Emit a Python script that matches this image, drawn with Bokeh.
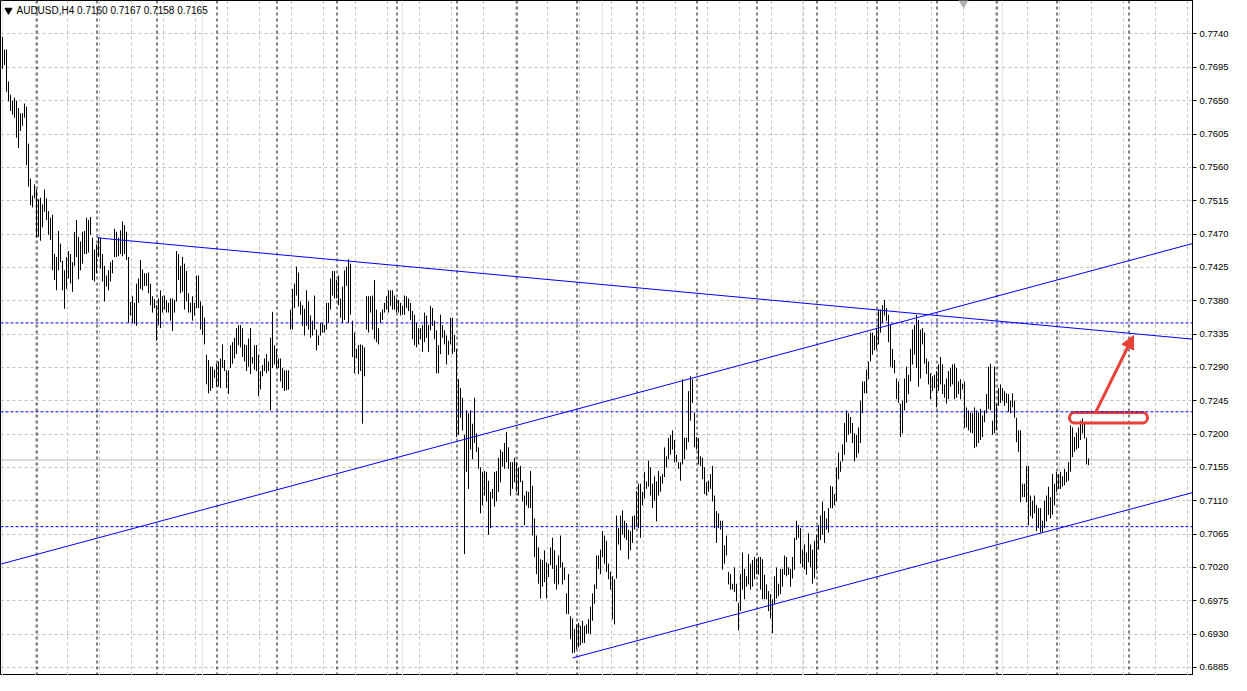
from bokeh.plotting import figure
from bokeh.models import (Range1d, FixedTicker, Grid, Span, Label, Arrow, NormalHead,
                          PrintfTickFormatter, ColumnDataSource)
from bokeh.embed import file_html
from bokeh.resources import INLINE

# ---------------- data (AUDUSD H4, prices in pips: 7736 = 0.7736) ----------------
high_pips = [
    7736, 7719, 7719, 7676, 7658, 7650, 7654, 7650, 7640, 7633,
    7633, 7646, 7642, 7592, 7545, 7522, 7537, 7530, 7517, 7519,
    7510, 7530, 7518, 7501, 7492, 7496, 7443, 7439, 7474, 7457,
    7434, 7421, 7439, 7447, 7443, 7432, 7473, 7489, 7466, 7460,
    7473, 7474, 7492, 7489, 7493, 7465, 7449, 7456, 7466, 7465,
    7443, 7427, 7414, 7421, 7432, 7435, 7477, 7473, 7465, 7475,
    7487, 7482, 7473, 7439, 7378, 7386, 7377, 7403, 7410, 7435,
    7422, 7417, 7417, 7418, 7403, 7386, 7382, 7374, 7383, 7394,
    7386, 7387, 7381, 7377, 7383, 7383, 7381, 7447, 7443, 7427,
    7439, 7430, 7420, 7390, 7377, 7386, 7377, 7414, 7414, 7379,
    7373, 7357, 7307, 7300, 7291, 7291, 7287, 7295, 7298, 7302,
    7321, 7300, 7286, 7286, 7320, 7324, 7330, 7343, 7347, 7347,
    7343, 7321, 7320, 7329, 7343, 7304, 7320, 7320, 7307, 7285,
    7293, 7302, 7308, 7298, 7330, 7365, 7320, 7315, 7302, 7302,
    7289, 7286, 7286, 7286, 7368, 7396, 7403, 7426, 7418, 7379,
    7374, 7369, 7394, 7379, 7360, 7353, 7387, 7341, 7333, 7350,
    7350, 7347, 7377, 7377, 7410, 7420, 7420, 7408, 7414, 7383,
    7399, 7421, 7426, 7436, 7430, 7353, 7337, 7315, 7320, 7321,
    7320, 7317, 7386, 7386, 7386, 7387, 7408, 7368, 7343, 7364,
    7368, 7377, 7386, 7394, 7394, 7394, 7387, 7383, 7381, 7377,
    7373, 7387, 7386, 7383, 7377, 7366, 7361, 7350, 7343, 7343,
    7347, 7364, 7360, 7347, 7373, 7370, 7353, 7340, 7320, 7361,
    7347, 7340, 7333, 7326, 7357, 7357, 7334, 7315, 7274, 7262,
    7249, 7199, 7232, 7228, 7232, 7214, 7249, 7201, 7182, 7155,
    7149, 7150, 7149, 7137, 7122, 7126, 7149, 7150, 7168, 7179,
    7176, 7188, 7203, 7182, 7162, 7162, 7168, 7162, 7155, 7157,
    7137, 7117, 7123, 7122, 7150, 7130, 7086, 7063, 7047, 7031,
    7030, 7043, 7027, 7025, 7047, 7060, 7043, 7023, 7036, 7063,
    7027, 7020, 6985, 7011, 6954, 6951, 6937, 6943, 6945, 6941,
    6948, 6941, 6943, 6950, 6967, 6985, 6997, 7036, 7036, 7044,
    7069, 7063, 7056, 7025, 7014, 7008, 7004, 7090, 7073, 7090,
    7097, 7083, 7080, 7071, 7069, 7089, 7090, 7123, 7133, 7133,
    7122, 7149, 7136, 7164, 7155, 7133, 7143, 7136, 7150, 7143,
    7146, 7182, 7170, 7195, 7199, 7205, 7192, 7172, 7162, 7162,
    7274, 7195, 7195, 7258, 7278, 7274, 7229, 7196, 7195, 7170,
    7168, 7155, 7135, 7137, 7146, 7157, 7117, 7096, 7093, 7083,
    7083, 7050, 7063, 7014, 7011, 6998, 7020, 6998, 6972, 7011,
    7040, 7018, 7008, 7038, 7025, 7030, 7034, 7031, 7034, 7034,
    7031, 7010, 6997, 6988, 6984, 6977, 7008, 7020, 6998, 7018,
    7018, 7036, 7034, 7020, 7018, 7034, 7060, 7083, 7077, 7073,
    7044, 7051, 7040, 7066, 7051, 7044, 7056, 7064, 7077, 7090,
    7109, 7096, 7086, 7100, 7130, 7129, 7119, 7155, 7175, 7163,
    7186, 7215, 7232, 7228, 7223, 7215, 7201, 7199, 7209, 7245,
    7271, 7271, 7287, 7298, 7337, 7337, 7333, 7343, 7368, 7368,
    7374, 7381, 7370, 7361, 7347, 7315, 7300, 7275, 7271, 7241,
    7245, 7275, 7291, 7280, 7315, 7341, 7347, 7361, 7354, 7341,
    7343, 7337, 7302, 7298, 7282, 7278, 7280, 7285, 7294, 7304,
    7294, 7267, 7275, 7285, 7289, 7294, 7295, 7289, 7271, 7274,
    7268, 7271, 7236, 7232, 7229, 7228, 7236, 7232, 7229, 7234,
    7225, 7232, 7254, 7291, 7295, 7218, 7291, 7241, 7262, 7267,
    7262, 7258, 7255, 7254, 7245, 7255, 7245, 7222, 7205, 7205,
    7133, 7133, 7157, 7157, 7117, 7110, 7117, 7104, 7100, 7100,
    7083, 7110, 7117, 7129, 7115, 7146, 7133, 7149, 7146, 7149,
    7143, 7153, 7149, 7162, 7212, 7209, 7196, 7202, 7209, 7218,
    7221, 7216, 7195, 7167,
]
low_pips = [
    7693, 7698, 7662, 7649, 7636, 7631, 7627, 7600, 7586, 7609,
    7616, 7627, 7563, 7534, 7509, 7506, 7518, 7465, 7466, 7461,
    7479, 7500, 7489, 7469, 7462, 7421, 7408, 7394, 7421, 7432,
    7394, 7369, 7396, 7410, 7403, 7392, 7427, 7439, 7409, 7421,
    7430, 7443, 7443, 7445, 7469, 7408, 7406, 7417, 7439, 7423,
    7406, 7379, 7399, 7394, 7406, 7417, 7439, 7439, 7440, 7443,
    7440, 7443, 7435, 7350, 7360, 7350, 7349, 7346, 7377, 7396,
    7394, 7400, 7400, 7390, 7374, 7364, 7370, 7326, 7347, 7343,
    7364, 7368, 7364, 7364, 7353, 7339, 7364, 7379, 7408, 7390,
    7392, 7368, 7379, 7364, 7364, 7353, 7360, 7370, 7370, 7341,
    7334, 7321, 7267, 7255, 7258, 7262, 7276, 7264, 7264, 7262,
    7289, 7285, 7262, 7254, 7289, 7295, 7302, 7308, 7320, 7317,
    7304, 7298, 7285, 7291, 7281, 7295, 7287, 7285, 7251, 7260,
    7278, 7285, 7282, 7285, 7232, 7289, 7294, 7289, 7289, 7271,
    7262, 7258, 7259, 7260, 7341, 7341, 7370, 7387, 7372, 7361,
    7346, 7333, 7346, 7341, 7330, 7333, 7341, 7313, 7320, 7333,
    7337, 7337, 7341, 7350, 7368, 7387, 7383, 7383, 7374, 7357,
    7350, 7354, 7400, 7350, 7361, 7304, 7282, 7302, 7281, 7285,
    7214, 7278, 7341, 7337, 7364, 7341, 7328, 7324, 7321, 7350,
    7354, 7364, 7368, 7364, 7373, 7368, 7368, 7364, 7364, 7360,
    7361, 7361, 7370, 7366, 7354, 7328, 7320, 7317, 7321, 7328,
    7311, 7324, 7330, 7311, 7340, 7346, 7328, 7282, 7282, 7308,
    7330, 7321, 7294, 7307, 7321, 7308, 7311, 7196, 7199, 7222,
    7205, 7038, 7149, 7126, 7179, 7166, 7188, 7176, 7153, 7093,
    7104, 7117, 7109, 7064, 7073, 7113, 7102, 7109, 7122, 7135,
    7156, 7153, 7162, 7153, 7117, 7126, 7135, 7122, 7117, 7135,
    7109, 7077, 7104, 7100, 7100, 7063, 7034, 7011, 6998, 6978,
    6994, 7000, 6978, 7007, 7023, 7018, 6998, 6990, 6997, 7020,
    6997, 7003, 6957, 6957, 6923, 6904, 6905, 6910, 6912, 6915,
    6918, 6918, 6930, 6931, 6930, 6948, 6971, 6991, 7018, 7011,
    7034, 7025, 7014, 7004, 6990, 6950, 6943, 7005, 7051, 7043,
    7064, 7060, 7057, 7031, 7043, 7053, 7071, 7076, 7073, 7060,
    7104, 7113, 7126, 7129, 7117, 7100, 7110, 7082, 7117, 7122,
    7133, 7142, 7155, 7166, 7172, 7179, 7162, 7162, 7153, 7137,
    7159, 7166, 7179, 7189, 7218, 7242, 7182, 7179, 7159, 7157,
    7139, 7119, 7117, 7122, 7126, 7109, 7073, 7053, 7073, 7071,
    7017, 7025, 7036, 6997, 6990, 6990, 6987, 6974, 6935, 6961,
    6990, 6977, 6994, 6997, 6990, 6994, 7004, 7011, 7010, 6990,
    6977, 6977, 6977, 6961, 6951, 6931, 6971, 6978, 6981, 6984,
    6994, 7010, 7008, 7010, 6994, 7005, 7017, 7057, 7060, 7025,
    7020, 7017, 7010, 7027, 7020, 6998, 7005, 7017, 7044, 7057,
    7064, 7053, 7071, 7067, 7100, 7100, 7104, 7109, 7139, 7149,
    7163, 7172, 7189, 7199, 7201, 7188, 7163, 7168, 7174, 7188,
    7228, 7255, 7255, 7274, 7298, 7307, 7313, 7315, 7321, 7337,
    7350, 7360, 7353, 7324, 7291, 7289, 7282, 7247, 7242, 7196,
    7201, 7232, 7242, 7254, 7271, 7294, 7307, 7289, 7264, 7275,
    7321, 7295, 7281, 7267, 7247, 7258, 7262, 7236, 7258, 7267,
    7254, 7249, 7241, 7247, 7264, 7267, 7247, 7249, 7254, 7247,
    7260, 7208, 7209, 7205, 7202, 7201, 7181, 7183, 7188, 7192,
    7196, 7216, 7228, 7234, 7232, 7199, 7201, 7205, 7238, 7242,
    7245, 7238, 7242, 7230, 7228, 7236, 7222, 7189, 7176, 7108,
    7115, 7115, 7108, 7077, 7089, 7086, 7093, 7069, 7073, 7067,
    7067, 7073, 7082, 7091, 7086, 7091, 7104, 7122, 7126, 7126,
    7129, 7131, 7135, 7137, 7149, 7169, 7176, 7179, 7181, 7192,
    7201, 7194, 7159, 7158,
]
last_ohlc = [0.7160, 0.7167, 0.7158, 0.7165]
symbol = "AUDUSD,H4"

price_ticks = [0.7740, 0.7695, 0.7650, 0.7605, 0.7560, 0.7515, 0.7470, 0.7425,
               0.7380, 0.7335, 0.7290, 0.7245, 0.7200, 0.7155, 0.7110, 0.7065,
               0.7020, 0.6975, 0.6930, 0.6885]
levels = [0.7350, 0.7230, 0.7075]          # horizontal dashed levels
current_price = 0.7165
week_start_bars = [17, 47, 77, 107, 137, 167, 197, 227, 257, 287, 317, 347,
                   377, 407, 437, 467, 497, 527, 563]
shift_marker_bar = 480.5

# trend lines: (bar, price) anchors
trend_lines = [
    ((47.5, 0.74648), (602.0, 0.73264)),
    ((-1.0, 0.70244), (602.0, 0.74622)),
    ((285.0, 0.68978), (602.0, 0.71260)),
]
zone = dict(left=533.5, right=572.5, top=0.72290, bottom=0.72150)
arrow_pts = ((546.5, 0.72290), (565.5, 0.73330))

# ---------------- figure ----------------
FW, FH = 1192, 675                 # plot frame: 2 px per bar
X0 = -1.0
X1 = X0 + FW / 2.0
Y0, Y1 = 0.68741, 0.77852
p = figure(frame_width=FW, frame_height=FH, output_backend="svg", toolbar_location=None,
           x_range=Range1d(X0, X1), y_range=Range1d(Y0, Y1),
           x_axis_location=None, y_axis_location="right",
           min_border_left=0, min_border_top=0, min_border_bottom=0, min_border_right=0)
p.background_fill_color = "white"
p.border_fill_color = "white"
p.outline_line_color = "black"

ax = p.yaxis[0]
ax.ticker = FixedTicker(ticks=price_ticks)
ax.formatter = PrintfTickFormatter(format="%.4f")
ax.major_label_text_font = "Liberation Sans"
ax.major_label_text_font_size = "9.5px"
ax.major_label_text_color = "black"
ax.axis_line_color = "black"
ax.major_tick_line_color = "black"
ax.major_tick_out = 4
ax.major_tick_in = 0
ax.minor_tick_line_color = None
ax.major_label_standoff = 3

p.ygrid.grid_line_color = "#c0c0c0"
p.ygrid.grid_line_dash = "3 3"
p.ygrid.grid_line_width = 1

xgrid = Grid(dimension=0, ticker=FixedTicker(ticks=[16.25 + 16 * k for k in range(38)]),
             grid_line_color="#c0c0c0", grid_line_dash="3 3", grid_line_width=1)
p.add_layout(xgrid)

for b in week_start_bars:
    p.add_layout(Span(location=b + 0.25, dimension="height", line_color="black",
                      line_dash="3 3", line_width=1, level="underlay"))

p.add_layout(Span(location=current_price, dimension="width", line_color="#b8b8b8",
                  line_width=1, level="underlay"))
for lv in levels:
    p.add_layout(Span(location=lv, dimension="width", line_color="#0000ff",
                      line_dash="3 2", line_width=1))

# bars (high-low lines)
n = len(high_pips)
src = ColumnDataSource(dict(
    x=[float(i) for i in range(n)],
    hi=[h / 10000 for h in high_pips],
    lo=[l / 10000 for l in low_pips],
))
p.segment(x0="x", y0="lo", x1="x", y1="hi", source=src, line_color="black", line_width=1)

# trend lines
for (a, b) in trend_lines:
    p.segment(x0=[a[0]], y0=[a[1]], x1=[b[0]], y1=[b[1]], line_color="#0000ff", line_width=1)

# red zone + arrow
p.quad(left=[zone["left"]], right=[zone["right"]], top=[zone["top"]], bottom=[zone["bottom"]],
       fill_alpha=0, line_color="#e8413a", line_width=3, border_radius=5)
p.add_layout(Arrow(x_start=arrow_pts[0][0], y_start=arrow_pts[0][1],
                   x_end=arrow_pts[1][0], y_end=arrow_pts[1][1],
                   line_color="#e8413a", line_width=3,
                   end=NormalHead(size=13, fill_color="#e8413a", line_color="#e8413a")))

# chart-shift marker at the top
p.scatter(x=[shift_marker_bar], y=[Y1 - 0.0002], marker="inverted_triangle", size=10,
          color="#b0b0b0")

# title
p.scatter(x=[3.0], y=[0.77720], marker="inverted_triangle", size=7, color="black")
p.add_layout(Label(x=7.0, y=0.77720, text=symbol + "  " + " ".join("%.4f" % v for v in last_ohlc),
                   text_font="Liberation Sans", text_font_size="10px", text_baseline="middle",
                   text_color="black"))

# price boxes on the axis
for lv, bg in [(0.7350, "#0000e0"), (0.7230, "#0000e0"), (0.7075, "#0000e0"), (current_price, "black")]:
    p.add_layout(Label(x=X1, y=lv, text="%.4f" % lv, x_offset=2,
                       text_font="Liberation Sans", text_font_size="9.5px", text_baseline="middle",
                       text_color="white", background_fill_color=bg, border_line_color=bg,
                       padding=1))

open("out.html", "w").write(file_html(p, INLINE))
